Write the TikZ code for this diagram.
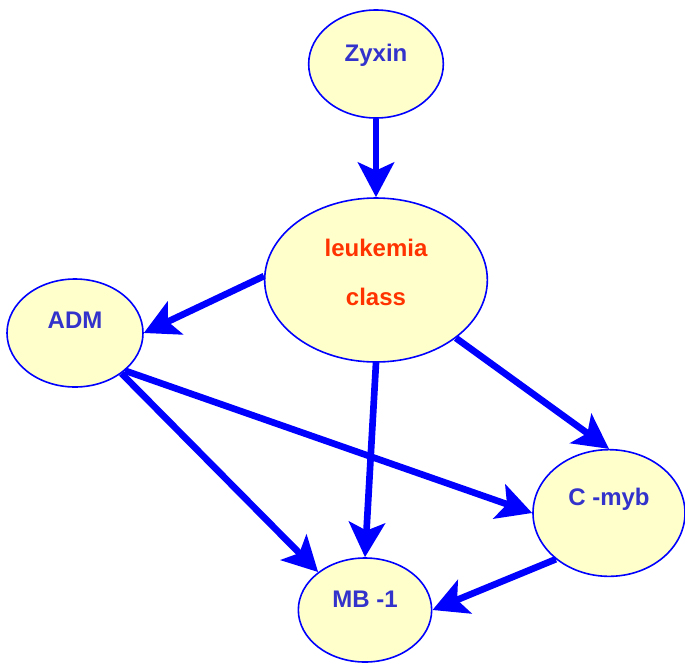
\documentclass[tikz,border=0pt]{standalone}
\usepackage{fontspec}
\setmainfont{Liberation Sans}
\usetikzlibrary{shapes.geometric,arrows.meta}
\definecolor{nodefill}{RGB}{255,255,204}
\definecolor{nodetext}{RGB}{51,51,204}
\definecolor{classtext}{RGB}{255,51,0}
\begin{document}
\begin{tikzpicture}[
		x=0.75pt,y=-0.75pt,
		var/.style={ellipse,draw=blue,line width=1.2pt,fill=nodefill,inner sep=0pt,
				text=nodetext,font=\fontsize{18}{22}\selectfont\bfseries,
				text height=13pt,text depth=17pt},
		link/.style={draw=blue,line width=5pt,
				-{Stealth[length=26pt,width=27pt,inset=6pt]}}
	]
	\useasboundingbox (0,0) rectangle (685,664);
	\node[var,minimum width=101pt,minimum height=81pt] (zyxin) at (376,64) {Zyxin};
	\node[var,text=classtext,align=center,text height=,text depth=12pt,
		minimum width=167pt,minimum height=123pt] (leuk) at (376,280) {leukemia\\[15pt]class};
	\node[var,minimum width=102pt,minimum height=81pt,text depth=20pt] (adm) at (75,333) {ADM};
	\node[var,minimum width=114pt,minimum height=95pt,text depth=25pt] (cmyb) at (609,513) {C -myb};
	\node[var,minimum width=100pt,minimum height=78pt] (mb) at (365,610) {MB -1};

	% arcs
	\draw[link] (zyxin.south) -- (leuk.north);
	\draw[link] (leuk.178) -- (adm.east);
	\draw[link] (leuk.south) -- (mb.north);
	\draw[link] (leuk.-36) -- (cmyb.north);
	\draw[link] (adm.-41) -- (mb.141);
	\draw[link] (adm.-37) -- (cmyb.west);
	\draw[link] (cmyb.221) -- (mb.east);
\end{tikzpicture}
\end{document}
